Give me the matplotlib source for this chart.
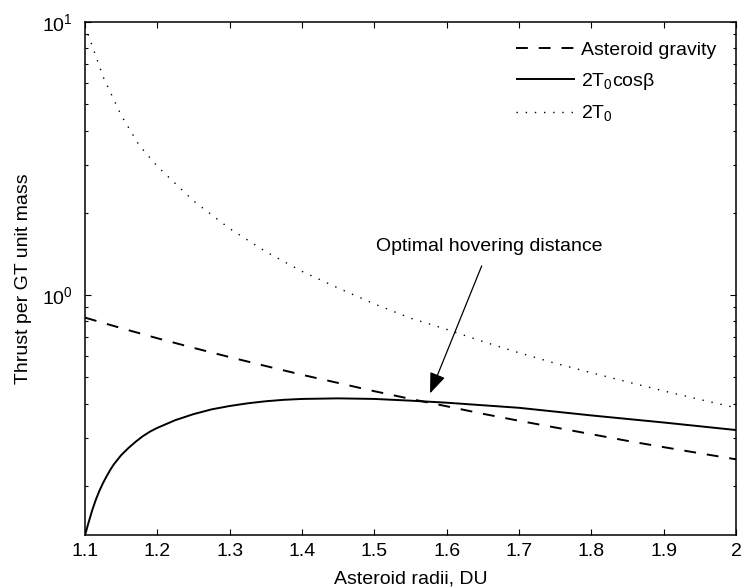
import matplotlib
matplotlib.use("Agg")
import matplotlib.pyplot as plt
from matplotlib.ticker import LogLocator, LogFormatterMathtext, FixedLocator, NullFormatter

plt.rcParams['font.family'] = ['Liberation Sans', 'DejaVu Sans']
plt.rcParams['mathtext.fontset'] = 'custom'
plt.rcParams['mathtext.rm'] = 'Liberation Sans'
plt.rcParams['mathtext.it'] = 'Liberation Sans'
plt.rcParams['mathtext.default'] = 'regular'

# Asteroid gravity per unit mass vs. radius
r_grav = [1.10, 1.15, 1.20, 1.25, 1.30, 1.35, 1.40, 1.45, 1.50, 1.55,
          1.60, 1.65, 1.70, 1.75, 1.80, 1.85, 1.90, 1.95, 2.00]
gravity = [0.826, 0.756, 0.694, 0.640, 0.592, 0.549, 0.510, 0.476, 0.444, 0.416,
           0.391, 0.367, 0.346, 0.327, 0.309, 0.292, 0.277, 0.263, 0.250]

# Projected thrust 2 T0 cos(beta)
r_proj = [1.100, 1.105, 1.110, 1.115, 1.120, 1.125, 1.130, 1.135, 1.140, 1.150,
          1.160, 1.170, 1.180, 1.190, 1.200, 1.225, 1.250, 1.275, 1.300, 1.325,
          1.350, 1.375, 1.400, 1.450, 1.500, 1.550, 1.600, 1.700, 1.800, 1.900, 2.000]
thrust_proj = [0.132, 0.147, 0.163, 0.178, 0.192, 0.205, 0.217, 0.229, 0.240, 0.259,
               0.275, 0.290, 0.304, 0.316, 0.326, 0.348, 0.366, 0.381, 0.392, 0.401,
               0.408, 0.413, 0.416, 0.418, 0.416, 0.410, 0.403, 0.386, 0.362, 0.341, 0.320]

# Full thrust 2 T0
r_full = [1.100, 1.125, 1.150, 1.175, 1.200, 1.250, 1.300, 1.350, 1.400, 1.450,
          1.500, 1.550, 1.600, 1.650, 1.700, 1.750, 1.800, 1.850, 1.900, 1.950, 2.000]
thrust_full = [9.70, 6.30, 4.55, 3.53, 2.96, 2.21, 1.75, 1.44, 1.22, 1.06,
               0.927, 0.822, 0.748, 0.675, 0.614, 0.562, 0.519, 0.480, 0.445, 0.414, 0.386]

x_ticks = [1.1, 1.2, 1.3, 1.4, 1.5, 1.6, 1.7, 1.8, 1.9, 2.0]
x_tick_labels = ['1.1', '1.2', '1.3', '1.4', '1.5', '1.6', '1.7', '1.8', '1.9', '2']

fig = plt.figure(figsize=(7.42, 5.88), dpi=100)
ax = fig.add_axes([0.1146, 0.0901, 0.8774, 0.8725])

lw = 1.4
ax.plot(r_grav, gravity, color='black', lw=lw, dashes=(6.1, 5.6),
        label='Asteroid gravity')
ax.plot(r_proj, thrust_proj, color='black', lw=lw, solid_capstyle='butt',
        solid_joinstyle='round', label=r'2T$_0$cosβ')
ax.plot(r_full, thrust_full, color='black', lw=1.0, dashes=(1.0, 5.6),
        label=r'2T$_0$')

ax.set_yscale('log')
ax.set_xlim(1.1, 2.0)
ax.set_ylim(0.132, 10)

ax.xaxis.set_major_locator(FixedLocator(x_ticks))
ax.set_xticklabels(x_tick_labels)
ax.yaxis.set_major_locator(LogLocator(base=10, numticks=10))
ax.yaxis.set_major_formatter(LogFormatterMathtext())
ax.yaxis.set_minor_locator(LogLocator(base=10, subs=range(2, 10), numticks=20))
ax.yaxis.set_minor_formatter(NullFormatter())

ax.tick_params(which='both', direction='in', top=True, right=True,
               labelsize=14, width=0.8, colors='black')
ax.tick_params(which='major', length=4.0, pad=6)
ax.tick_params(axis='y', which='major', pad=9)
ax.tick_params(which='minor', length=2.3)
for s in ax.spines.values():
    s.set_linewidth(1.1)

ax.set_xlabel('Asteroid radii, DU', fontsize=14, labelpad=7)
ax.set_ylabel('Thrust per GT unit mass', fontsize=14, labelpad=7)

ax.annotate('Optimal hovering distance', xy=(1.577, 0.436), xytext=(1.659, 1.50),
            fontsize=14, ha='center', va='center',
            arrowprops=dict(arrowstyle='-|>,head_length=0.9,head_width=0.35',
                            color='black', lw=0.9, shrinkA=6, shrinkB=0))

ax.legend(loc='upper right', frameon=False, fontsize=14, handlelength=3.0,
          handletextpad=0.35, labelspacing=0.6, borderaxespad=0.6)

fig.savefig('out.png', dpi=100)
